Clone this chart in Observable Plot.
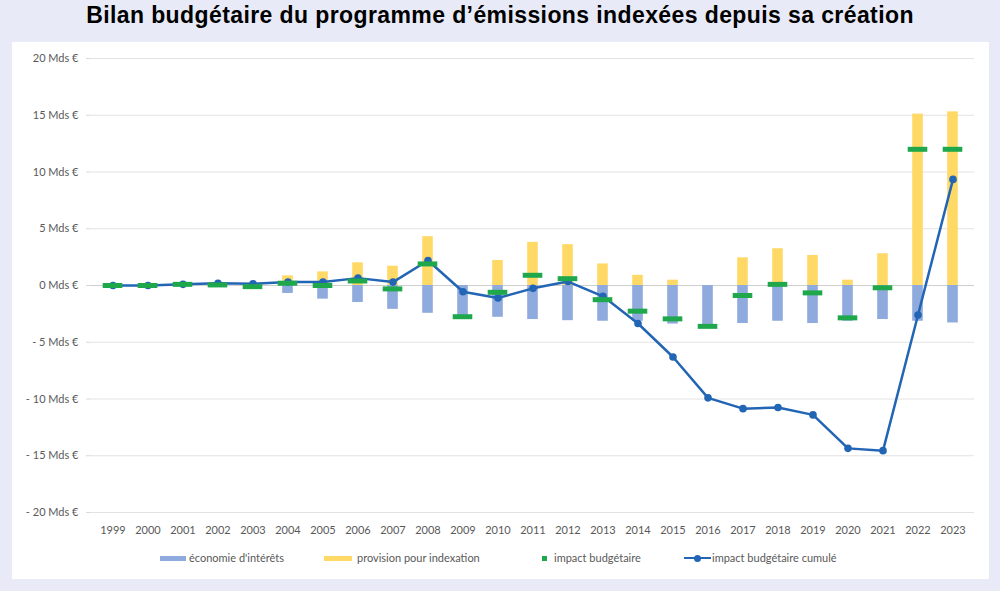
<!DOCTYPE html>
<html>
<head>
<meta charset="utf-8">
<script src="https://cdn.jsdelivr.net/npm/d3@7"></script>
<script src="https://cdn.jsdelivr.net/npm/@observablehq/plot@0.6"></script>
<style>
  html, body { margin: 0; padding: 0; }
  body { width: 1000px; height: 591px; background: #e8ebf7; position: relative; overflow: hidden; font-family: Lato, "Open Sans", sans-serif; }
  #title { position: absolute; left: 0; top: 1px; width: 1000px; text-align: center; font-family: "Liberation Sans", Arial, sans-serif; font-weight: bold; font-size: 23px; letter-spacing: 0.4px; color: #000; line-height: 28px; }
  #panel { position: absolute; left: 12px; top: 42px; width: 977px; height: 537px; background: #fff; }
  #chart { position: absolute; left: 0; top: 0; }
  .leg { position: absolute; top: 508px; height: 16px; font-size: 11px; color: #595959; line-height: 16px; white-space: nowrap; }
  .sw { position: absolute; }
</style>
</head>
<body>
<div id="title">Bilan budgétaire du programme d’émissions indexées depuis sa création</div>
<div id="panel">
  <div id="chart"></div>
</div>
<script>
const years = ["1999","2000","2001","2002","2003","2004","2005","2006","2007","2008","2009","2010","2011","2012","2013","2014","2015","2016","2017","2018","2019","2020","2021","2022","2023"];
const economie = [-0.05,-0.05,-0.05,-0.1,-0.15,-0.7,-1.2,-1.5,-2.1,-2.45,-2.75,-2.8,-3.0,-3.1,-3.15,-3.15,-3.4,-3.6,-3.35,-3.15,-3.35,-3.15,-3.0,-3.15,-3.3];
const provision = [0.05,0.05,0.1,0.1,0.05,0.85,1.2,2.0,1.7,4.3,0,2.2,3.8,3.6,1.9,0.9,0.47,0,2.44,3.24,2.65,0.47,2.8,15.1,15.3];
const impact = [0,0,0.1,0.05,-0.1,0.2,0.0,0.4,-0.3,1.9,-2.75,-0.6,0.9,0.6,-1.25,-2.26,-2.94,-3.6,-0.88,0.1,-0.65,-2.85,-0.2,12.0,12.0];
const cumule = [0,0,0.1,0.2,0.15,0.3,0.3,0.65,0.3,2.2,-0.55,-1.1,-0.25,0.35,-0.95,-3.35,-6.3,-9.9,-10.85,-10.75,-11.4,-14.35,-14.55,-2.6,9.35];
const yTicks = [-20,-15,-10,-5,0,5,10,15,20];
const legendLabels = ["économie d'intérêts","provision pour indexation","impact budgétaire","impact budgétaire cumulé"];

const colBlue = "#8faadc", colYellow = "#ffd966", colGreen = "#1ea84b", colLine = "#2265b5";

const data = years.map((y, i) => ({year: y, eco: economie[i], prov: provision[i], imp: impact[i], cum: cumule[i]}));

const fmt = d => d < 0 ? "- " + Math.abs(d) + " Mds €" : d + " Mds €";

const plot = Plot.plot({
  width: 977,
  height: 500,
  marginLeft: 78,
  marginRight: 15,
  marginTop: 16,
  marginBottom: 30,
  style: {fontFamily: "Lato, 'Open Sans', sans-serif", fontSize: "11px", color: "#595959", background: "transparent"},
  x: {type: "band", domain: years, padding: 0, label: null},
  y: {domain: [-20, 20], label: null},
  marks: [
    Plot.ruleY(yTicks.filter(d => d !== 0), {stroke: "#e2e2e2", strokeWidth: 1}),
    Plot.ruleY([0], {stroke: "#cfcfcf", strokeWidth: 1}),
    Plot.axisY({ticks: yTicks, tickFormat: fmt, tickSize: 4, tickPadding: 8, stroke: "#d9d9d9", fill: "#595959", fontSize: 11}),
    Plot.axisX({tickSize: 0, tickPadding: 14, fill: "#595959", fontSize: 11}),
    Plot.barY(data, {x: "year", y1: 0, y2: "eco", fill: colBlue, insetLeft: 12.2, insetRight: 12.2}),
    Plot.barY(data, {x: "year", y1: 0, y2: "prov", fill: colYellow, insetLeft: 12.2, insetRight: 12.2}),
    Plot.line(data, {x: "year", y: "cum", stroke: colLine, strokeWidth: 2.5}),
    Plot.dot(data, {x: "year", y: "cum", r: 3.8, fill: colLine}),
    Plot.tickY(data, {x: "year", y: "imp", stroke: colGreen, strokeWidth: 5, insetLeft: 7.7, insetRight: 7.7})
  ]
});
document.getElementById("chart").appendChild(plot);

// Legend (HTML, below the SVG)
const panel = document.getElementById("panel");
const items = [
  {x: 148, sw: {w: 26, h: 5, c: colBlue, type: "rect"}, tx: 177, label: legendLabels[0]},
  {x: 312, sw: {w: 28, h: 5, c: colYellow, type: "rect"}, tx: 345, label: legendLabels[1]},
  {x: 530, sw: {w: 5, h: 5, c: colGreen, type: "rect"}, tx: 542, label: legendLabels[2]},
  {x: 672, sw: {w: 27, h: 2.5, c: colLine, type: "line"}, tx: 700, label: legendLabels[3]}
];
items.forEach(it => {
  const sw = document.createElement("div");
  sw.className = "sw";
  sw.style.left = it.x + "px";
  sw.style.top = (516 - it.sw.h / 2) + "px";
  sw.style.width = it.sw.w + "px";
  sw.style.height = it.sw.h + "px";
  sw.style.background = it.sw.c;
  panel.appendChild(sw);
  if (it.sw.type === "line") {
    const dot = document.createElement("div");
    dot.className = "sw";
    dot.style.left = (it.x + it.sw.w / 2 - 3.5) + "px";
    dot.style.top = (516 - 3.5) + "px";
    dot.style.width = "7px"; dot.style.height = "7px";
    dot.style.borderRadius = "50%";
    dot.style.background = it.sw.c;
    panel.appendChild(dot);
  }
  const t = document.createElement("div");
  t.className = "leg";
  t.style.left = it.tx + "px";
  t.textContent = it.label;
  panel.appendChild(t);
});
</script>
</body>
</html>
